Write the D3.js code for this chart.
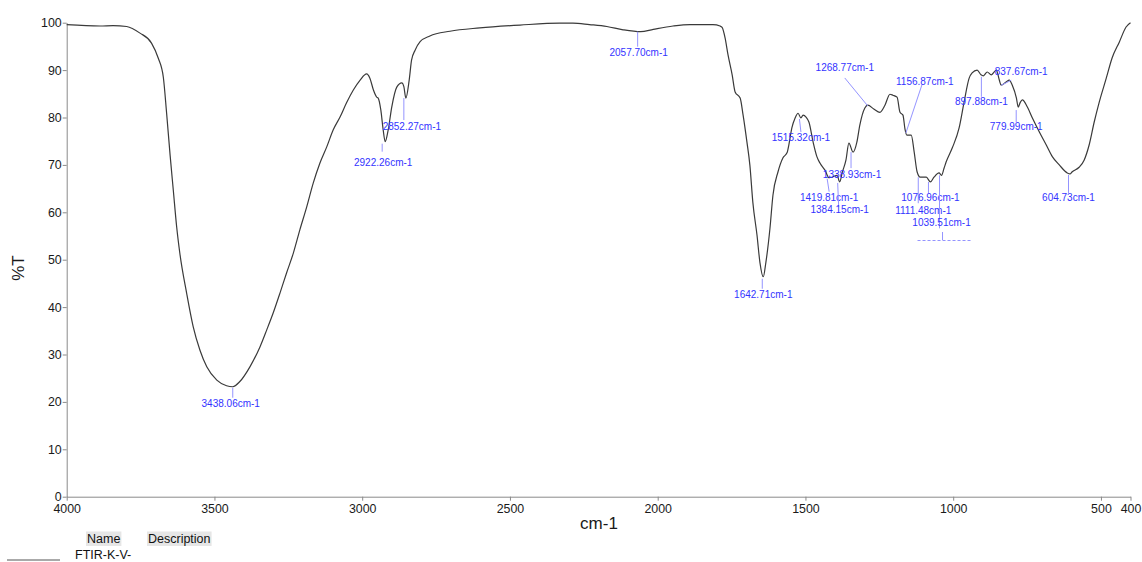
<!DOCTYPE html>
<html>
<head>
<meta charset="utf-8">
<script src="https://cdn.jsdelivr.net/npm/d3@7/dist/d3.min.js"></script>
<style>
  html, body { margin: 0; padding: 0; background: #fff; }
  svg { display: block; font-family: "Liberation Sans", Arial, sans-serif; }
</style>
</head>
<body>
<svg id="chart" width="1142" height="562"></svg>
<script>
// FTIR spectrum, wavenumber (cm-1) vs transmittance (%T)
const wavenumber = [4000,3887,3843,3797,3752,3713,3690,3673,3662,3650,3639,3628,3617,3594,3572,3549,3526,3492,3459,3438.06,3414,3380,3346,3323,3301,3278,3256,3233,3211,3188,3166,3143,3120,3098,3075,3053,3030,3007,2985,2974,2962,2951,2946,2937,2929,2922.26,2912,2900,2883,2866,2859,2852.27,2841,2833,2821,2804,2771,2703,2602,2466,2331,2287,2231,2172,2117,2057.70,2015,1948,1891,1813,1789,1782,1772,1762,1748,1738,1721,1711,1698,1688,1678,1664,1654,1642.71,1634,1620,1610,1593,1576,1562,1556,1546,1535,1525,1515.32,1508,1498,1488,1474,1461,1451,1434,1419.81,1410,1393,1384.15,1375,1363,1353,1338.93,1326,1316,1299,1289,1268.77,1248,1231,1214,1204,1190,1180,1170,1163,1156.87,1142,1132,1122,1111.48,1091,1076.96,1065,1048,1039.51,1031,1024,1003,980,963,946,936,919,906,897.88,885,871,854,844,837.67,821,810,800,786,779.99,773,766,749,732,708,685,664,641,614,604.73,598,574,557,540,523,506,482,462,438,415,400];
const transmittance = [99.6,99.3,99.4,99.2,97.8,95.7,92.5,88.5,81.0,72.0,64.5,57.0,51.3,42.9,35.9,30.9,27.4,24.6,23.4,23.2,24.3,27.4,31.6,35.2,38.8,43.0,47.2,51.4,56.3,61.1,66.1,70.4,73.8,77.4,80.1,83.1,85.8,87.9,89.2,88.3,85.8,84.3,84.1,81.6,77.4,74.9,77.4,82.2,86.4,87.3,86.5,84.1,87.9,92.1,94.2,96.0,97.2,98.2,98.9,99.5,99.9,99.9,99.6,99.2,98.5,98.1,98.6,99.3,99.6,99.6,99.3,99.0,96.8,93.2,89.0,85.4,84.1,80.5,74.8,69.9,62.1,55.2,49.4,46.4,49.4,56.7,63.6,68.5,71.5,72.6,74.3,77.8,79.9,80.9,79.9,80.5,80.1,79.0,74.8,71.7,70.4,68.9,67.3,67.4,67.8,66.4,68.5,71.0,74.6,72.7,74.8,78.4,82.0,82.6,81.8,81.1,82.6,84.9,84.7,84.3,81.1,80.5,77.5,76.3,76.3,72.7,68.5,67.4,67.4,66.4,67.4,68.3,67.8,69.3,70.6,73.6,77.8,83.3,88.3,89.4,90.0,89.0,88.8,89.6,89.0,90.0,87.9,86.8,87.5,87.9,86.8,84.1,82.2,83.2,83.7,82.2,79.9,76.9,74.2,71.7,70.0,68.3,68.1,68.5,69.5,71.0,74.2,79.0,83.2,88.3,92.6,95.9,99.1,100.0];

// Picked peaks (cm-1)
const peaks = [3438.06,2922.26,2852.27,2057.70,1642.71,1515.32,1419.81,1384.15,1338.93,1268.77,1156.87,1111.48,1076.96,1039.51,897.88,837.67,779.99,604.73];

// Axis ticks
const xTicks = [4000,3500,3000,2500,2000,1500,1000,500,400];
const yTicks = [0,10,20,30,40,50,60,70,80,90,100];

// Legend
const legendHeaders = ["Name","Description"];
const seriesName = "FTIR-K-V-";

// Label placement relative to each peak point: text centre (tx,ty), leader line (x1,y1)-(x2,y2)
const labelPlacement = [
  [-2,17, 0,1, 0,11],
  [-2,21, -3,2, -3,10],
  [6,28, -2,0, -2,22],
  [-2,21, -3,0, -3,15],
  [0,18, -1,2, -1,12],
  [0,20, -1.5,1, 0,14],
  [0,20, -2,1, 0,14],
  [0,28, -2,1, -1,25],
  [-1,22, -2,0, -2,16],
  [-29,-41, -6,-3, -29,-31],
  [18,-54, -1,-2, 15,-50],
  [3,33.5, -2,0, -2,26],
  [0,16, -2,0, -2,11],
  [0,47, -2,0, -2,53],
  [-2,26, -2,1, -2,21],
  [20,-14, 0,0, 10,-5],
  [-2,19.6, -2,3, -2,15],
  [-1.5,24, -1.5,1, -1.5,19]
];

const svg = d3.select("#chart");
const plotLeft = 66.7, plotRight = 1130.5, plotTop = 22.7, plotBottom = 496.7;

const x = d3.scaleLinear().domain([4000, 400]).range([plotLeft, plotRight]);
const y = d3.scaleLinear().domain([0, 100]).range([plotBottom, plotTop]);

const axisColor = "#8a8a8a";
const tickTextColor = "#1a1a1a";

// Y axis
const gy = svg.append("g").attr("transform", `translate(${plotLeft},0)`)
  .call(d3.axisLeft(y).tickValues(yTicks).tickSize(4).tickSizeOuter(0).tickPadding(1));
gy.select(".domain").attr("stroke", axisColor);
gy.selectAll(".tick line").attr("stroke", axisColor);
gy.selectAll(".tick text").attr("fill", tickTextColor)
  .style("font-size", "12.4px").style("font-family", "'Liberation Sans', Arial, sans-serif");

// X axis
const gx = svg.append("g").attr("transform", `translate(0,${plotBottom})`)
  .call(d3.axisBottom(x).tickValues(xTicks).tickSize(4).tickSizeOuter(0).tickPadding(4).tickFormat(d3.format("d")));
gx.select(".domain").attr("stroke", axisColor);
gx.selectAll(".tick line").attr("stroke", axisColor);
gx.selectAll(".tick text").attr("fill", tickTextColor)
  .style("font-size", "12.4px").style("font-family", "'Liberation Sans', Arial, sans-serif");

// Axis titles
svg.append("text").attr("x", 599).attr("y", 529).attr("text-anchor", "middle")
  .attr("fill", "#1a1a1a").style("font-size", "17px").text("cm-1");
svg.append("text").attr("transform", "translate(24,268) rotate(-90)").attr("text-anchor", "middle")
  .attr("fill", "#1a1a1a").style("font-size", "17px").text("%T");

// Spectrum trace
const pts = wavenumber.map((w, i) => [w, transmittance[i]]);
const line = d3.line().x(d => x(d[0])).y(d => y(d[1])).curve(d3.curveMonotoneX);
svg.append("path").datum(pts).attr("d", line)
  .attr("fill", "none").attr("stroke", "#3a3a3a").attr("stroke-width", 1.2);

// Peak labels
const tAt = w => transmittance[wavenumber.indexOf(w)];
const labelColor = "#3333ff", leaderColor = "#9494ff";
const gl = svg.append("g");
peaks.forEach((w, i) => {
  const px = x(w), py = y(tAt(w));
  const [tx, ty, x1, y1, x2, y2] = labelPlacement[i];
  gl.append("line")
    .attr("x1", px + x1).attr("y1", py + y1).attr("x2", px + x2).attr("y2", py + y2)
    .attr("stroke", leaderColor).attr("stroke-width", 1);
  gl.append("text").attr("x", px + tx).attr("y", py + ty).attr("dy", "0.35em")
    .attr("text-anchor", "middle").attr("fill", labelColor)
    .style("font-size", "10px").text(w.toFixed(2) + "cm-1");
});

// Collapsed label strip under the 1039.51 group
const stripX = x(1039.51);
gl.append("line").attr("x1", stripX + 1).attr("x2", stripX + 1).attr("y1", 232).attr("y2", 240)
  .attr("stroke", leaderColor);
gl.append("line").attr("x1", stripX - 24).attr("x2", stripX + 30).attr("y1", 240.5).attr("y2", 240.5)
  .attr("stroke", leaderColor).attr("stroke-dasharray", "3,2");

// Legend
const lg = svg.append("g").style("font-size", "12.5px");
const hdrX = [87, 148];
legendHeaders.forEach((h, i) => {
  const t = lg.append("text").attr("x", hdrX[i]).attr("y", 543).attr("fill", "#111").text(h);
  const bb = t.node().getBBox();
  lg.insert("rect", "text").attr("x", bb.x - 1).attr("y", 531.5).attr("width", bb.width + 2).attr("height", 14.5)
    .attr("fill", "#e6e6e6");
});
lg.append("line").attr("x1", 7).attr("x2", 60).attr("y1", 560).attr("y2", 560)
  .attr("stroke", "#555").attr("stroke-width", 1);
lg.append("text").attr("x", 75).attr("y", 558.5).attr("fill", "#111").text(seriesName);
</script>
</body>
</html>
